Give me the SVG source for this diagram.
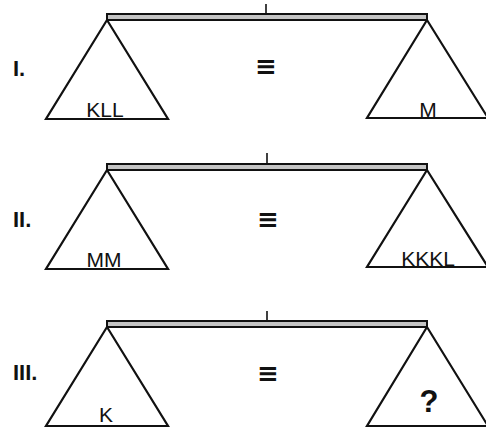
<svg xmlns="http://www.w3.org/2000/svg" width="486" height="432" viewBox="0 0 486 432">
<style>
.bar{fill:#c4c4c4;stroke:#111;stroke-width:2}
.pan{fill:none;stroke:#111;stroke-width:2.2;stroke-linejoin:miter}
.tick{stroke:#111;stroke-width:1.6}
.lbl{font-family:"Liberation Sans",Arial,sans-serif;font-size:21px;fill:#111;text-anchor:middle}
.num{font-family:"Liberation Sans",Arial,sans-serif;font-size:22px;font-weight:bold;fill:#111}
.eq{font-family:"DejaVu Sans","Liberation Sans",sans-serif;font-size:26px;font-weight:bold;fill:#111;text-anchor:middle}
.q{font-family:"Liberation Sans",Arial,sans-serif;font-size:31px;font-weight:bold;fill:#111;text-anchor:middle}
</style>
<rect width="486" height="432" fill="#fff"/>
<g id="scale1">
<line class="tick" x1="266" y1="4" x2="266" y2="14"/>
<rect class="bar" x="107" y="14" width="320" height="6"/>
<polygon class="pan" points="107,20 46,119 168,119"/>
<polygon class="pan" points="427,20 367,118 488,118"/>
<text class="num" x="13" y="76">I.</text>
<text class="eq" x="266" y="75">≡</text>
<text class="lbl" x="105" y="117">KLL</text>
<text class="lbl" x="428" y="117">M</text>
</g>
<g id="scale2">
<line class="tick" x1="267" y1="153" x2="267" y2="164"/>
<rect class="bar" x="107" y="164" width="320" height="6"/>
<polygon class="pan" points="107,170 46,269 168,269"/>
<polygon class="pan" points="427,170 367,267 488,267"/>
<text class="num" x="13" y="227">II.</text>
<text class="eq" x="268" y="228">≡</text>
<text class="lbl" x="104" y="267">MM</text>
<text class="lbl" x="428" y="266">KKKL</text>
</g>
<g id="scale3">
<line class="tick" x1="267" y1="311" x2="267" y2="321"/>
<rect class="bar" x="107" y="321" width="320" height="6"/>
<polygon class="pan" points="107,327 46,426 168,426"/>
<polygon class="pan" points="427,327 367,426 488,426"/>
<text class="num" x="13" y="380">III.</text>
<text class="eq" x="268" y="382">≡</text>
<text class="lbl" x="106" y="422">K</text>
<text class="q" x="429" y="412">?</text>
</g>
</svg>
